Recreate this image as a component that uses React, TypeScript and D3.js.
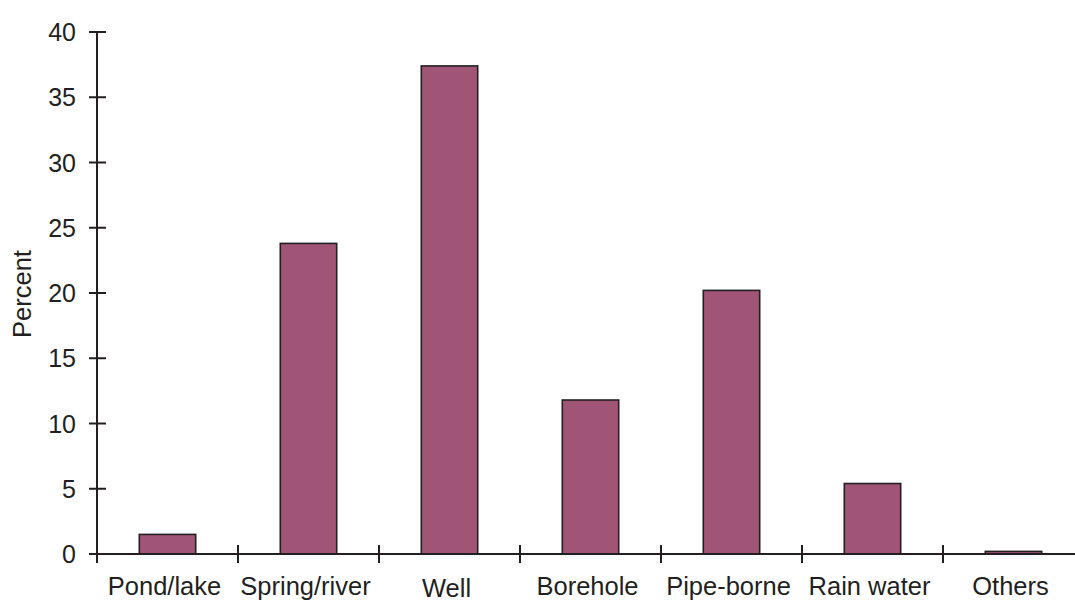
import React from "react";
import * as d3 from "d3";

const categories = ["Pond/lake", "Spring/river", "Well", "Borehole", "Pipe-borne", "Rain water", "Others"];
const values = [1.5, 23.8, 37.4, 11.8, 20.2, 5.4, 0.2];
const yTicks = [0, 5, 10, 15, 20, 25, 30, 35, 40];

const W = 1075;
const H = 603;
const x0 = 97;
const band = 141;
const yTop = 32;
const yBase = 554;
const FILL = "#a05577";
const INK = "#231f20";
const FONT = "'Liberation Sans', Arial, sans-serif";

export default function App() {
  const x = d3
    .scaleBand<string>()
    .domain(categories)
    .range([x0, x0 + band * categories.length])
    .paddingInner(0.6)
    .paddingOuter(0.3);
  const y = d3.scaleLinear().domain([0, 40]).range([yBase, yTop]);
  const bandEdges = categories.map((_, i) => x0 + band * i);

  return (
    <div style={{ position: "fixed", left: 0, top: 0 }}>
      <svg width={W} height={H} style={{ display: "block", background: "#fff" }}>
        {categories.map((c, i) => (
          <rect
            key={c}
            x={x(c)!}
            y={y(values[i])}
            width={x.bandwidth()}
            height={yBase - y(values[i])}
            fill={FILL}
            stroke={INK}
            strokeWidth={1.6}
          />
        ))}
        <line x1={x0} x2={x0} y1={y(40)} y2={yBase + 9} stroke={INK} strokeWidth={2} />
        {yTicks.map((t) => (
          <g key={t}>
            <line x1={x0 - 8} x2={x0 + 9} y1={y(t)} y2={y(t)} stroke={INK} strokeWidth={2} />
            <text
              x={76}
              y={y(t)}
              dy="0.36em"
              textAnchor="end"
              fontFamily={FONT}
              fontSize={25}
              fill={INK}
            >
              {t}
            </text>
          </g>
        ))}
        <line x1={x0 - 8} x2={W} y1={yBase} y2={yBase} stroke={INK} strokeWidth={2} />
        {bandEdges.map((bx, i) => (
          <line key={i} x1={bx} x2={bx} y1={yBase - 9} y2={yBase + 9} stroke={INK} strokeWidth={2} />
        ))}
        {categories.map((c) => (
          <text
            key={c}
            x={x(c)! + x.bandwidth() / 2 - 3}
            y={c === "Well" ? 597 : 595}
            textAnchor="middle"
            fontFamily={FONT}
            fontSize={25.5}
            fill={INK}
          >
            {c}
          </text>
        ))}
        <text
          transform={`translate(31,${(yTop + yBase) / 2 + 1}) rotate(-90)`}
          textAnchor="middle"
          fontFamily={FONT}
          fontSize={25.5}
          fill={INK}
        >
          Percent
        </text>
      </svg>
    </div>
  );
}
